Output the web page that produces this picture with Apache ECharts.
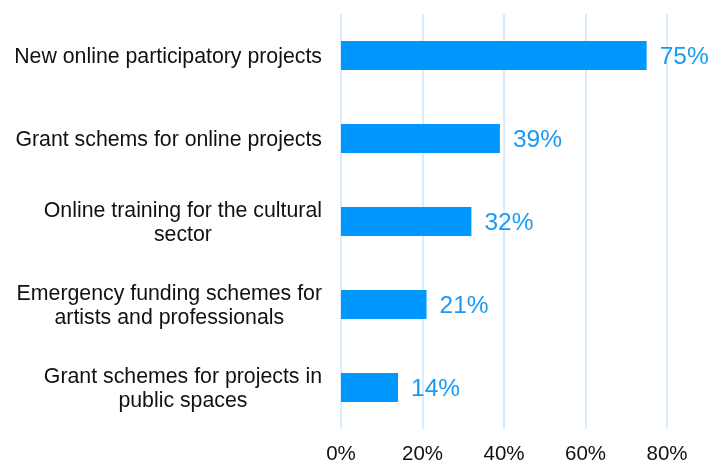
<!DOCTYPE html>
<html>
<head>
<meta charset="utf-8">
<script src="https://cdn.jsdelivr.net/npm/echarts@6/dist/echarts.min.js"></script>
<style>
  html, body { margin: 0; padding: 0; background: #ffffff; }
  #chart { width: 725px; height: 462px; }
</style>
</head>
<body>
<div id="chart"></div>
<script>
// Measures taken, listed top to bottom
const categories = [
  'New online participatory projects',
  'Grant schems for online projects',
  'Online training for the cultural\nsector',
  'Emergency funding schemes for\nartists and professionals',
  'Grant schemes for projects in\npublic spaces'
];
const shares = [75, 39, 32, 21, 14];
const xTicks = { min: 0, max: 80, interval: 20 };

const FONT = 'Liberation Sans';

const chart = echarts.init(document.getElementById('chart'), null, { renderer: 'canvas' });
chart.setOption({
  animation: false,
  textStyle: { fontFamily: FONT },
  grid: {
    left: 341, right: 58, top: 14, bottom: 33,
    containLabel: false,
    outerBoundsMode: 'none'
  },
  xAxis: {
    type: 'value',
    min: xTicks.min,
    max: xTicks.max,
    interval: xTicks.interval,
    axisLine: { show: false },
    axisTick: { show: false },
    splitLine: { show: true, lineStyle: { color: '#d9edfc', width: 2 } },
    axisLabel: {
      formatter: '{value}%',
      color: '#111111',
      fontSize: 20.5,
      fontFamily: FONT,
      margin: 15
    }
  },
  yAxis: {
    type: 'category',
    inverse: true,
    data: categories,
    axisLine: { show: false },
    axisTick: { show: false },
    axisLabel: {
      align: 'right',
      margin: 19,
      padding: [4, 0, 0, 0],
      // each line is centred inside the right-aligned label block
      formatter: (v) => v.split('\n').map((line) => '{c|' + line + '}').join('\n'),
      rich: {
        c: {
          align: 'center',
          color: '#111111',
          fontSize: 21.3,
          lineHeight: 24,
          fontFamily: FONT
        }
      }
    }
  },
  series: [{
    type: 'bar',
    data: shares,
    barWidth: 29,
    itemStyle: { color: '#0098ff' },
    label: {
      show: true,
      position: 'right',
      distance: 13,
      offset: [0, 2],
      formatter: '{c}%',
      color: '#1a9af5',
      fontSize: 24.5,
      fontFamily: FONT
    }
  }]
});
</script>
</body>
</html>
